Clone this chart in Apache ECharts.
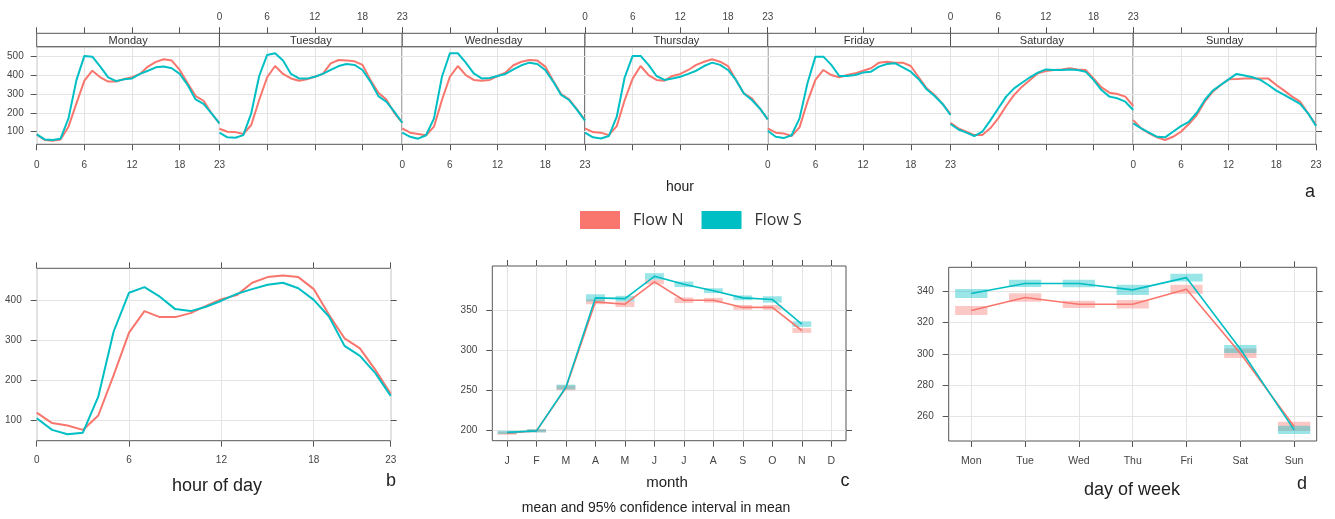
<!DOCTYPE html>
<html>
<head>
<meta charset="utf-8">
<script src="https://cdn.jsdelivr.net/npm/echarts@6.0.0/dist/echarts.min.js"></script>
<style>
  html, body { margin: 0; padding: 0; background: #fff; }
  #chart { width: 1335px; height: 519px; }
</style>
</head>
<body>
<div id="chart"></div>
<script>
// time variation of Flow N / Flow S (lattice-style panels)

const hours = [0, 1, 2, 3, 4, 5, 6, 7, 8, 9, 10, 11, 12, 13, 14, 15, 16, 17, 18, 19, 20, 21, 22, 23];
const dayNames = ['Monday', 'Tuesday', 'Wednesday', 'Thursday', 'Friday', 'Saturday', 'Sunday'];
const hourTicks = [0, 6, 12, 18, 23];
const weekTicks = [100, 200, 300, 400, 500];

// panel a: hour x weekday
const mondayN = [86, 56, 52, 59, 127, 251, 372, 425, 390, 367, 367, 381, 390, 408, 447, 472, 486, 479, 429, 358, 290, 265, 198, 144];
const mondayS = [86, 59, 56, 63, 171, 375, 504, 500, 447, 390, 370, 379, 384, 408, 425, 443, 447, 438, 408, 349, 272, 248, 198, 144];
const tuesdayN = [116, 100, 98, 88, 136, 269, 390, 450, 408, 384, 372, 379, 393, 408, 464, 482, 479, 475, 456, 376, 308, 272, 201, 148];
const tuesdayS = [95, 70, 68, 82, 198, 397, 509, 518, 479, 408, 384, 383, 393, 408, 429, 450, 461, 456, 429, 367, 290, 260, 207, 148];
const wednesdayN = [118, 95, 88, 81, 127, 269, 393, 450, 402, 376, 372, 376, 397, 415, 454, 473, 482, 479, 447, 372, 301, 272, 219, 162];
const wednesdayS = [95, 73, 63, 81, 171, 393, 518, 518, 468, 411, 384, 386, 397, 408, 432, 454, 468, 461, 429, 367, 296, 269, 216, 159];
const thursdayN = [118, 98, 95, 82, 130, 269, 383, 450, 402, 376, 372, 397, 408, 429, 456, 473, 486, 473, 450, 376, 304, 278, 224, 166];
const thursdayS = [95, 70, 64, 77, 180, 390, 504, 504, 456, 397, 376, 384, 393, 408, 425, 450, 468, 456, 429, 376, 304, 269, 224, 166];
const fridayN = [118, 95, 91, 77, 123, 260, 376, 429, 402, 390, 402, 411, 425, 438, 468, 473, 468, 468, 450, 390, 331, 296, 248, 194];
const fridayS = [105, 73, 66, 81, 171, 358, 500, 500, 456, 397, 397, 402, 415, 420, 447, 461, 465, 443, 420, 380, 326, 290, 248, 189];
const saturdayN = [148, 118, 100, 82, 82, 118, 171, 237, 296, 340, 376, 411, 423, 429, 432, 438, 432, 429, 384, 336, 308, 301, 287, 237];
const saturdayS = [141, 112, 95, 77, 100, 159, 224, 287, 331, 361, 390, 415, 432, 429, 429, 432, 429, 420, 376, 322, 287, 278, 260, 216];
const sundayN = [162, 118, 91, 70, 56, 73, 100, 141, 189, 260, 313, 349, 379, 381, 384, 384, 384, 383, 349, 319, 287, 260, 198, 136];
const sundayS = [144, 118, 95, 73, 70, 100, 130, 153, 201, 269, 319, 349, 379, 408, 400, 390, 376, 349, 319, 296, 272, 248, 198, 130];

// panel b: hour of day
const hourTicksY = [100, 200, 300, 400];
const hourN = [118, 92, 86, 75, 111, 212, 318, 372, 357, 357, 367, 385, 402, 412, 443, 457, 461, 457, 427, 362, 304, 279, 225, 165];
const hourS = [104, 75, 64, 68, 158, 321, 418, 432, 408, 377, 372, 383, 398, 415, 427, 438, 443, 429, 400, 358, 285, 260, 217, 160];

// panel c: month (mean and 95% CI half width)
const monthLabels = ['J', 'F', 'M', 'A', 'M', 'J', 'J', 'A', 'S', 'O', 'N', 'D'];
const monthTicksY = [200, 250, 300, 350];
const monthN = [196, 199, 253, 361, 358, 386, 363, 363, 354, 354, 325];
const monthS = [197, 199, 254, 366, 365, 393, 383, 375, 366, 364, 333];
const monthCiN = [2, 2, 3, 3, 3.5, 3, 3.5, 3, 3, 3, 3];
const monthCiS = [2, 2, 3, 4.5, 3.5, 4, 3.5, 3, 3, 4, 3.5];

// panel d: day of week
const weekdayLabels = ['Mon', 'Tue', 'Wed', 'Thu', 'Fri', 'Sat', 'Sun'];
const weekdayTicksY = [260, 280, 300, 320, 340];
const weekdayN = [327.7, 336, 331.7, 331.7, 341.3, 300.5, 253.8];
const weekdayS = [338.6, 345, 345, 340.9, 348.7, 303.2, 251.6];
const weekdayCiN = [2.9, 2.7, 2.3, 2.7, 2.9, 3, 3];
const weekdayCiS = [2.9, 2.3, 2.4, 3.2, 2.5, 2.5, 2.7];

const flowN = [mondayN, tuesdayN, wednesdayN, thursdayN, fridayN, saturdayN, sundayN];
const flowS = [mondayS, tuesdayS, wednesdayS, thursdayS, fridayS, saturdayS, sundayS];

const RED = '#F8766D';
const TEAL = '#00BFC4';
const RED_CI = 'rgba(248,118,109,0.4)';
const TEAL_CI = 'rgba(0,191,196,0.4)';
const FONT = '"Liberation Sans", Arial, sans-serif';
const TICK = '#444';
const GRIDLINE = '#e4e4e4';
const BORDER = '#555';

const grids = [];
const xAxes = [];
const yAxes = [];
const series = [];
const graphics = [];

function addGrid(left, top, width, height) {
  grids.push({
    left: left, top: top, width: width, height: height,
    show: true, borderColor: BORDER, borderWidth: 1,
    backgroundColor: 'transparent', outerBoundsMode: 'none', containLabel: false
  });
  return grids.length - 1;
}

function makeAxis(gridIndex, p) {
  return {
    gridIndex: gridIndex,
    type: 'value',
    position: p.position,
    offset: p.offset || 0,
    min: p.min,
    max: p.max,
    axisLine: { show: false, onZero: false },
    axisTick: {
      show: p.ticks !== false, length: 6, inside: false,
      customValues: p.values, lineStyle: { color: BORDER }
    },
    axisLabel: {
      show: !!p.labels, customValues: p.values, margin: p.margin || 8,
      fontSize: p.fontSize || 10, color: TICK, fontFamily: FONT,
      formatter: p.formatter
    },
    splitLine: { show: !!p.split, lineStyle: { color: GRIDLINE, width: 1 } }
  };
}

function addX(gridIndex, p) { xAxes.push(makeAxis(gridIndex, p)); return xAxes.length - 1; }
function addY(gridIndex, p) { yAxes.push(makeAxis(gridIndex, p)); return yAxes.length - 1; }

function lineSeries(name, color, xi, yi, xs, ys, width) {
  return {
    type: 'line', name: name, xAxisIndex: xi, yAxisIndex: yi,
    data: xs.map((x, k) => [x, ys[k]]),
    showSymbol: false, symbol: 'none', silent: true,
    color: color,
    lineStyle: { color: color, width: width },
    z: 3
  };
}

function ciSeries(name, fill, xi, yi, means, cis, halfW) {
  return {
    type: 'custom', name: name, xAxisIndex: xi, yAxisIndex: yi,
    data: means.map((m, k) => [k, m - cis[k], m + cis[k]]),
    silent: true, z: 2,
    renderItem: function (params, api) {
      const lo = api.coord([api.value(0) - halfW, api.value(1)]);
      const hi = api.coord([api.value(0) + halfW, api.value(2)]);
      return {
        type: 'rect',
        shape: { x: lo[0], y: hi[1], width: hi[0] - lo[0], height: lo[1] - hi[1] },
        style: { fill: fill }
      };
    }
  };
}

// ---- panel a: seven day panels with strips ----
const A_LEFT = 36.7, A_TOP = 46.7, A_H = 97.6, A_W = 182.76, STRIP = 13.4;
dayNames.forEach(function (day, i) {
  const left = A_LEFT + i * A_W;
  const g = addGrid(left, A_TOP, A_W, A_H);
  const xb = addX(g, { position: 'bottom', min: 0, max: 23, values: hourTicks, labels: i % 2 === 0, split: true, margin: 16 });
  addX(g, { position: 'top', offset: STRIP, min: 0, max: 23, values: hourTicks, labels: i % 2 === 1, margin: 11 });
  const yl = addY(g, { position: 'left', min: 33, max: 553, values: weekTicks, labels: i === 0, ticks: i === 0, split: true, margin: 13 });
  if (i === 6) {
    addY(g, { position: 'right', min: 33, max: 553, values: weekTicks, labels: false });
  }
  series.push(lineSeries('Flow N', RED, xb, yl, hours, flowN[i], 2));
  series.push(lineSeries('Flow S', TEAL, xb, yl, hours, flowS[i], 2));

  graphics.push({
    type: 'rect', z: 10,
    shape: { x: left, y: A_TOP - STRIP, width: A_W, height: STRIP },
    style: { fill: '#fff', stroke: BORDER, lineWidth: 1 }
  });
  graphics.push({
    type: 'text', z: 11, x: left + A_W / 2, y: A_TOP - STRIP / 2 + 0.5,
    style: { text: day, fontSize: 11, fontFamily: FONT, fill: '#333', textAlign: 'center', textVerticalAlign: 'middle' }
  });
});

// ---- panel b: hour of day ----
function addBoxPanel(left, top, width, height, xp, yp) {
  const g = addGrid(left, top, width, height);
  const xb = addX(g, Object.assign({ position: 'bottom', labels: true, split: true, margin: 15 }, xp));
  addX(g, Object.assign({}, xp, { position: 'top', labels: false, formatter: undefined }));
  const yl = addY(g, Object.assign({ position: 'left', labels: true, split: true, margin: 15 }, yp));
  addY(g, Object.assign({}, yp, { position: 'right', labels: false }));
  return { x: xb, y: yl };
}

const pb = addBoxPanel(36.7, 268.3, 354, 172.4,
  { min: 0, max: 23, values: hourTicks },
  { min: 48, max: 479, values: hourTicksY });
series.push(lineSeries('Flow N', RED, pb.x, pb.y, hours, hourN, 2));
series.push(lineSeries('Flow S', TEAL, pb.x, pb.y, hours, hourS, 2));

// ---- panel c: month ----
const pc = addBoxPanel(492.3, 266, 353.7, 174.7,
  { min: -0.5, max: 11.5, values: monthLabels.map((m, k) => k), fontSize: 10.5, formatter: v => monthLabels[v] },
  { min: 186.6, max: 406, values: monthTicksY });
series.push(ciSeries('Flow N', RED_CI, pc.x, pc.y, monthN, monthCiN, 0.32));
series.push(ciSeries('Flow S', TEAL_CI, pc.x, pc.y, monthS, monthCiS, 0.32));
series.push(lineSeries('Flow N', RED, pc.x, pc.y, monthN.map((v, k) => k), monthN, 1.6));
series.push(lineSeries('Flow S', TEAL, pc.x, pc.y, monthS.map((v, k) => k), monthS, 1.6));

// ---- panel d: day of week ----
const pd = addBoxPanel(948.7, 267.3, 368, 173.7,
  { min: -0.42, max: 6.42, values: weekdayLabels.map((d, k) => k), fontSize: 10.5, formatter: v => weekdayLabels[v] },
  { min: 244.5, max: 355.3, values: weekdayTicksY });
series.push(ciSeries('Flow N', RED_CI, pd.x, pd.y, weekdayN, weekdayCiN, 0.3));
series.push(ciSeries('Flow S', TEAL_CI, pd.x, pd.y, weekdayS, weekdayCiS, 0.3));
series.push(lineSeries('Flow N', RED, pd.x, pd.y, weekdayN.map((v, k) => k), weekdayN, 1.6));
series.push(lineSeries('Flow S', TEAL, pd.x, pd.y, weekdayS.map((v, k) => k), weekdayS, 1.6));

// ---- titles ----
function label(text, x, y, size, fill) {
  graphics.push({
    type: 'text', z: 11, x: x, y: y,
    style: { text: text, fontSize: size, fontFamily: FONT, fill: fill || '#222', textAlign: 'center', textVerticalAlign: 'middle' }
  });
}
label('hour', 680, 187, 14);
label('a', 1310, 192, 18);
label('hour of day', 217, 486, 18);
label('b', 391, 481, 18);
label('month', 667, 483, 15);
label('c', 845, 481, 18);
label('mean and 95% confidence interval in mean', 656, 508, 14);
label('day of week', 1132, 490, 18);
label('d', 1302, 484, 18);

const chart = echarts.init(document.getElementById('chart'), null, { renderer: 'canvas' });
chart.setOption({
  animation: false,
  backgroundColor: '#fff',
  textStyle: { fontFamily: FONT },
  grid: grids,
  xAxis: xAxes,
  yAxis: yAxes,
  legend: {
    left: 580, top: 211, padding: 0,
    icon: 'rect', itemWidth: 40, itemHeight: 18, itemGap: 18,
    selectedMode: false,
    textStyle: { fontSize: 16, fontFamily: '"Open Sans", "Noto Sans", sans-serif', color: '#333', padding: [0, 0, 0, 8] },
    data: [
      { name: 'Flow N', itemStyle: { color: RED } },
      { name: 'Flow S', itemStyle: { color: TEAL } }
    ]
  },
  graphic: { elements: graphics },
  series: series
});
</script>
</body>
</html>
